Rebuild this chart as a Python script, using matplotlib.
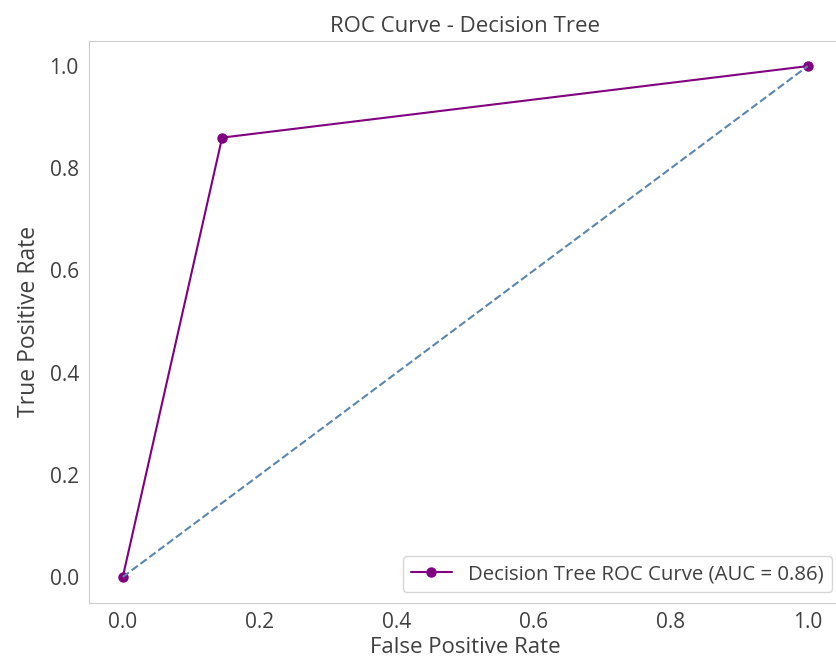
import matplotlib
matplotlib.use("Agg")
import matplotlib.pyplot as plt
import seaborn as sns

# ROC points for the decision tree classifier
fpr = [0.0, 0.145, 1.0]
tpr = [0.0, 0.860, 1.0]
chance = [0.0, 1.0]

# trapezoid area under the curve
roc_auc = sum((fpr[i + 1] - fpr[i]) * (tpr[i + 1] + tpr[i]) / 2 for i in range(len(fpr) - 1))

sns.set_style("whitegrid")
plt.rcParams['font.family'] = ['Open Sans', 'DejaVu Sans']
plt.rcParams['text.color'] = '#404040'
plt.rcParams['axes.labelcolor'] = '#404040'
plt.rcParams['xtick.color'] = '#404040'
plt.rcParams['ytick.color'] = '#404040'

fig = plt.figure(figsize=(8.36, 6.66), dpi=100)
ax = fig.add_axes([0.1059, 0.0953, 0.9013, 0.8438])

ax.plot(fpr, tpr, color='purple', marker='o', markersize=6.5, linewidth=1.5,
        label='Decision Tree ROC Curve (AUC = %0.2f)' % roc_auc)
ax.plot(chance, chance, color='#5b86ad', linestyle='--', linewidth=1.5)

ax.set_title('ROC Curve - Decision Tree', fontsize=16)
ax.set_xlabel('False Positive Rate', fontsize=16, labelpad=3)
ax.set_ylabel('True Positive Rate', fontsize=16.5, labelpad=6)
ax.tick_params(labelsize=15)
ax.grid(False)
ax.legend(loc='lower right', fontsize=14.7)

fig.savefig('out.png', dpi=100)
